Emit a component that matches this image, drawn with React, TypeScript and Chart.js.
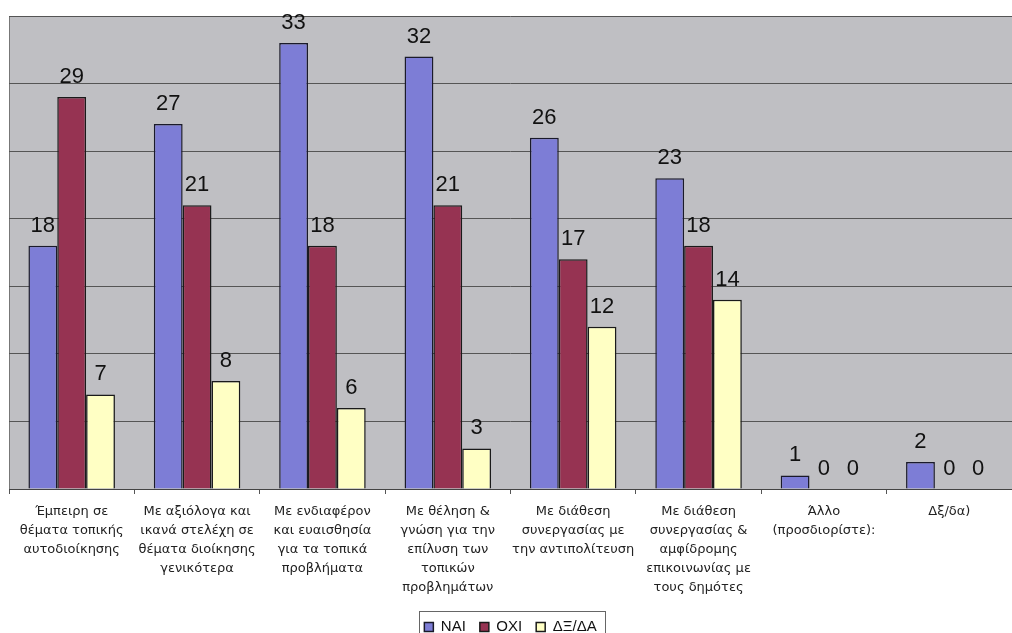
import React, { useEffect, useRef } from "react";
import { Chart, registerables } from "chart.js";

Chart.register(...registerables);

const categories: string[][] = [
  ["Έμπειρη σε", "θέματα τοπικής", "αυτοδιοίκησης"],
  ["Με αξιόλογα και", "ικανά στελέχη σε", "θέματα διοίκησης", "γενικότερα"],
  ["Με ενδιαφέρον", "και ευαισθησία", "για τα τοπικά", "προβλήματα"],
  ["Με θέληση &", "γνώση για την", "επίλυση των", "τοπικών", "προβλημάτων"],
  ["Με διάθεση", "συνεργασίας με", "την αντιπολίτευση"],
  ["Με διάθεση", "συνεργασίας &", "αμφίδρομης", "επικοινωνίας με", "τους δημότες"],
  ["Άλλο", "(προσδιορίστε):"],
  ["Δξ/δα)"],
];

const naiValues = [18, 27, 33, 32, 26, 23, 1, 2];
const oxiValues = [29, 21, 18, 21, 17, 18, 0, 0];
const dkValues = [7, 8, 6, 3, 12, 14, 0, 0];
const seriesNames = ["ΝΑΙ", "ΟΧΙ", "ΔΞ/ΔΑ"];

const FONT = "'Liberation Sans', Arial, sans-serif";
const TICK_FONT = "'DejaVu Sans', 'Liberation Sans', sans-serif";

const bgPlugin = {
  id: "plotBg",
  beforeDraw(chart: any) {
    const { ctx, chartArea } = chart;
    if (!chartArea) return;
    ctx.save();
    ctx.fillStyle = "#bfbfc3";
    ctx.fillRect(chartArea.left, chartArea.top, chartArea.right - chartArea.left, chartArea.bottom - chartArea.top);
    ctx.strokeStyle = "#777";
    ctx.lineWidth = 1;
    ctx.beginPath();
    ctx.moveTo(chartArea.left + 0.5, chartArea.bottom);
    ctx.lineTo(chartArea.left + 0.5, chartArea.top);
    ctx.stroke();
    ctx.restore();
  },
};

const labelPlugin = {
  id: "valueLabels",
  afterDatasetsDraw(chart: any) {
    const { ctx } = chart;
    ctx.save();
    ctx.font = `22px ${FONT}`;
    ctx.fillStyle = "#111";
    ctx.textAlign = "center";
    ctx.textBaseline = "alphabetic";
    chart.data.datasets.forEach((ds: any, i: number) => {
      const meta = chart.getDatasetMeta(i);
      meta.data.forEach((bar: any, j: number) => {
        ctx.fillText(String(ds.data[j]), bar.x, bar.y - 14);
      });
    });
    ctx.restore();
  },
};

const legendBoxPlugin = {
  id: "legendBox",
  afterDraw(chart: any) {
    const lg = chart.legend;
    if (!lg || !lg.legendHitBoxes || !lg.legendHitBoxes.length) return;
    const boxes = lg.legendHitBoxes;
    const last = boxes[boxes.length - 1];
    const left = Math.round(boxes[0].left - 5);
    const right = Math.round(last.left + last.width + 8);
    const top = Math.round(boxes[0].top - 9);
    const { ctx } = chart;
    ctx.save();
    ctx.strokeStyle = "#666";
    ctx.lineWidth = 1;
    ctx.strokeRect(left + 0.5, top + 0.5, right - left, 40);
    ctx.restore();
  },
};

export default function App() {
  const ref = useRef<HTMLCanvasElement | null>(null);
  useEffect(() => {
    if (!ref.current) return;
    const chart = new Chart(ref.current, {
      type: "bar",
      data: {
        labels: categories,
        datasets: [
          { label: seriesNames[0], data: naiValues, backgroundColor: "#7d7dd6", borderColor: "#1a1a2a", borderWidth: 1.5 },
          { label: seriesNames[1], data: oxiValues, backgroundColor: "#963352", borderColor: "#1a1a1a", borderWidth: 1.5 },
          { label: seriesNames[2], data: dkValues, backgroundColor: "#ffffc4", borderColor: "#1a1a1a", borderWidth: 1.5 },
        ],
      },
      options: {
        animation: false,
        responsive: true,
        maintainAspectRatio: false,
        layout: { padding: { left: 9, right: 0, top: 16, bottom: 0 } },
        datasets: { bar: { barPercentage: 1, categoryPercentage: 0.69 } },
        scales: {
          x: {
            grid: { offset: true, drawOnChartArea: false, tickLength: 5, color: "#555" },
            border: { display: true, color: "#444", width: 1 },
            ticks: {
              maxRotation: 0,
              autoSkip: false,
              padding: 8.5,
              color: "#222",
              font: { family: TICK_FONT, size: 13, lineHeight: "19px" },
            },
            afterFit(scale: any) {
              scale.height = 116.5;
            },
          },
          y: {
            min: 0,
            max: 35,
            ticks: { stepSize: 5, display: false },
            grid: { color: "#555", lineWidth: 1, drawTicks: false },
            border: { display: false },
          },
        },
        plugins: {
          legend: {
            position: "bottom",
            maxHeight: 27.5,
            labels: {
              color: "#111",
              font: { family: FONT, size: 15 },
              boxWidth: 9,
              boxHeight: 9,
              padding: 14,
            },
          },
          tooltip: { enabled: false },
        },
      },
      plugins: [bgPlugin, labelPlugin, legendBoxPlugin],
    });
    return () => chart.destroy();
  }, []);
  return (
    <div style={{ position: "fixed", left: 0, top: 0, width: 1012, height: 633, background: "#fff" }}>
      <canvas ref={ref} />
    </div>
  );
}
